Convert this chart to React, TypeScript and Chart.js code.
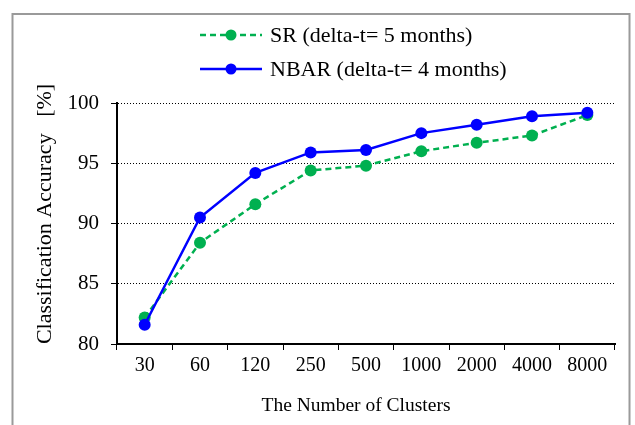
import React, { useEffect, useRef } from "react";
import { Chart, registerables } from "chart.js";

Chart.register(...registerables);

const categories = ["30", "60", "120", "250", "500", "1000", "2000", "4000", "8000"];
const srValues = [82.2, 88.4, 91.6, 94.4, 94.8, 96.0, 96.7, 97.3, 99.0];
const nbarValues = [81.6, 90.5, 94.2, 95.9, 96.1, 97.5, 98.2, 98.9, 99.2];
const seriesLabels = ["SR (delta-t= 5 months)", "NBAR (delta-t= 4 months)"];
const yMin = 80;
const yMax = 100;
const yStep = 5;
const xTitle = "The Number of Clusters";
const yTitle = "Classification Accuracy   [%]";

const FONT = "'Liberation Serif', 'Times New Roman', serif";
const GREEN = "#00b050";
const BLUE = "#0000ff";

const decorPlugin = {
  id: "decor",
  beforeDraw(chart: any) {
    const ctx = chart.ctx;
    ctx.save();
    ctx.fillStyle = "#ffffff";
    ctx.fillRect(0, 0, chart.width, chart.height);
    ctx.strokeStyle = "#9a9a9a";
    ctx.lineWidth = 2;
    ctx.strokeRect(12.5, 14, 617, 440);
    ctx.restore();
  },
  afterDraw(chart: any) {
    const ctx = chart.ctx;
    // y-axis title
    ctx.save();
    ctx.translate(45, 214);
    ctx.rotate(-Math.PI / 2);
    ctx.font = `22px ${FONT}`;
    ctx.fillStyle = "#000";
    ctx.textAlign = "center";
    ctx.textBaseline = "middle";
    ctx.fillText(yTitle, 0, 0);
    ctx.restore();

    // x-axis title
    ctx.save();
    ctx.font = `19.5px ${FONT}`;
    ctx.fillStyle = "#000";
    ctx.textAlign = "center";
    ctx.textBaseline = "middle";
    ctx.fillText(xTitle, 356, 406);
    ctx.restore();

    // legend
    const items = [
      { label: seriesLabels[0], color: GREEN, dash: [6, 4], y: 35 },
      { label: seriesLabels[1], color: BLUE, dash: [], y: 69 },
    ];
    ctx.save();
    for (const it of items) {
      ctx.strokeStyle = it.color;
      ctx.lineWidth = 2.5;
      ctx.setLineDash(it.dash);
      ctx.beginPath();
      ctx.moveTo(200, it.y);
      ctx.lineTo(262, it.y);
      ctx.stroke();
      ctx.setLineDash([]);
      ctx.fillStyle = it.color;
      ctx.beginPath();
      ctx.arc(231, it.y, 5.5, 0, Math.PI * 2);
      ctx.fill();
      ctx.fillStyle = "#000";
      ctx.font = `22px ${FONT}`;
      ctx.textAlign = "left";
      ctx.textBaseline = "middle";
      ctx.fillText(it.label, 270, it.y + 1);
    }
    ctx.restore();
  },
};

export default function App() {
  const ref = useRef<HTMLCanvasElement>(null);
  useEffect(() => {
    if (!ref.current) return;
    const chart = new Chart(ref.current, {
      type: "line",
      data: {
        labels: categories,
        datasets: [
          {
            label: seriesLabels[0],
            data: srValues,
            borderColor: GREEN,
            backgroundColor: GREEN,
            borderWidth: 2.5,
            borderDash: [6, 4],
            pointRadius: 6,
            pointHoverRadius: 6,
            pointBorderWidth: 0,
            pointBackgroundColor: GREEN,
            tension: 0,
            order: 2,
          },
          {
            label: seriesLabels[1],
            data: nbarValues,
            borderColor: BLUE,
            backgroundColor: BLUE,
            borderWidth: 2.5,
            pointRadius: 6,
            pointHoverRadius: 6,
            pointBorderWidth: 0,
            pointBackgroundColor: BLUE,
            tension: 0,
            order: 1,
          },
        ],
      },
      options: {
        animation: false,
        responsive: false,
        devicePixelRatio: 1,
        layout: { padding: { left: 0, top: 103, right: 20, bottom: 0 } },
        plugins: {
          legend: { display: false },
          tooltip: { enabled: false },
          title: { display: false },
        },
        scales: {
          x: {
            offset: true,
            afterFit: (s: any) => {
              s.height = 81;
            },
            grid: {
              offset: true,
              drawOnChartArea: false,
              drawTicks: true,
              tickLength: 6,
              tickColor: "#000",
              tickWidth: 1,
            },
            border: { display: true, color: "#000", width: 2 },
            ticks: {
              color: "#000",
              font: { family: FONT, size: 20 },
              padding: 4,
              maxRotation: 0,
              autoSkip: false,
            },
          },
          y: {
            min: yMin,
            max: yMax,
            afterFit: (s: any) => {
              s.width = 117;
            },
            grid: {
              color: "#000",
              lineWidth: 1,
              drawTicks: true,
              tickLength: 6,
              tickColor: "#000",
              tickWidth: 1,
              tickBorderDash: [],
            },
            border: { display: true, color: "#000", width: 2, dash: [1, 2] },
            ticks: {
              stepSize: yStep,
              color: "#000",
              font: { family: FONT, size: 21 },
              padding: 12,
            },
          },
        },
      },
      plugins: [decorPlugin],
    });
    return () => chart.destroy();
  }, []);
  return (
    <div style={{ position: "absolute", left: 0, top: 0, width: 635, height: 425 }}>
      <canvas ref={ref} width={635} height={425} style={{ width: 635, height: 425, display: "block" }} />
    </div>
  );
}
